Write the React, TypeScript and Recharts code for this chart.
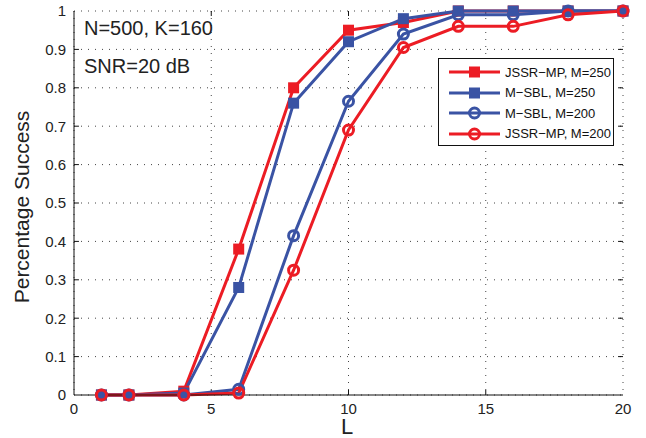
import { LineChart, Line, XAxis, YAxis, CartesianGrid, ReferenceLine } from 'recharts';

const L = [1, 2, 4, 6, 8, 10, 12, 14, 16, 18, 20];
const jssr250 = [0, 0, 0.01, 0.38, 0.8, 0.95, 0.97, 1, 1, 1, 1];
const msbl250 = [0, 0, 0.005, 0.28, 0.76, 0.92, 0.98, 1, 1, 1, 1];
const msbl200 = [0, 0, 0, 0.015, 0.415, 0.765, 0.94, 0.99, 0.99, 1, 1];
const jssr200 = [0, 0, 0, 0.005, 0.325, 0.69, 0.905, 0.96, 0.96, 0.99, 1];

const xTicks = [0, 5, 10, 15, 20];
const yTicks = [0, 0.1, 0.2, 0.3, 0.4, 0.5, 0.6, 0.7, 0.8, 0.9, 1];

const RED = '#ec1c24';
const BLUE = '#3a53a4';

const data = L.map((l, i) => ({
    L: l,
    jssr250: jssr250[i],
    msbl250: msbl250[i],
    msbl200: msbl200[i],
    jssr200: jssr200[i],
}));

const series = [
    { key: 'jssr250', name: 'JSSR\u2212MP, M=250', color: RED, shape: 'square' },
    { key: 'msbl250', name: 'M\u2212SBL, M=250', color: BLUE, shape: 'square' },
    { key: 'msbl200', name: 'M\u2212SBL, M=200', color: BLUE, shape: 'circle' },
    { key: 'jssr200', name: 'JSSR\u2212MP, M=200', color: RED, shape: 'circle' },
];

const FONT = '"Liberation Sans", Arial, Helvetica, sans-serif';

// matlab style inward tick marks, length in data units (~5px)
const TICK_X = 0.18;
const TICK_Y = 0.013;

const makeDot = (shape: string, color: string) => (props: any) => {
    const { cx, cy, index } = props;
    if (cx == null || cy == null) return <g key={index} />;
    if (shape === 'square') {
        return <rect key={index} x={cx - 5.5} y={cy - 5.5} width={11} height={11} fill={color} />;
    }
    return <circle key={index} cx={cx} cy={cy} r={5} fill="none" stroke={color} strokeWidth={3} />;
};

// legend box drawn by hand, sits over the upper right of the plot
const LegendBox = () => (
    <div
        style={{
            position: 'absolute',
            left: 438,
            top: 58,
            width: 176,
            height: 88,
            border: '1px solid #111',
            background: '#fff',
            boxSizing: 'border-box',
            paddingTop: 3,
        }}>
        {series.map((s) => (
            <div key={s.key} style={{ display: 'flex', alignItems: 'center', height: 20.5 }}>
                <svg width={58} height={14} style={{ marginLeft: 8 }}>
                    <line x1={2} y1={7} x2={53} y2={7} stroke={s.color} strokeWidth={3} />
                    {s.shape === 'square' ? (
                        <rect x={22} y={1.5} width={11} height={11} fill={s.color} />
                    ) : (
                        <circle cx={27.5} cy={7} r={5} fill="none" stroke={s.color} strokeWidth={3} />
                    )}
                </svg>
                <span style={{ fontSize: 13, color: '#111' }}>{s.name}</span>
            </div>
        ))}
    </div>
);

export default function App() {
    return (
        <div style={{ position: 'absolute', left: 0, top: 0, width: 646, height: 438, background: '#fff', fontFamily: FONT }}>
            <LineChart width={646} height={438} data={data} margin={{ top: 11, right: 23, left: 0, bottom: 0 }}>
                <CartesianGrid stroke="#444" strokeDasharray="1 6" />
                <XAxis
                    dataKey="L"
                    type="number"
                    domain={[0, 20]}
                    ticks={xTicks}
                    height={43}
                    stroke="#111"
                    tickLine={false}
                    tick={{ fontSize: 15, fill: '#222' }}
                />
                <XAxis xAxisId="top" orientation="top" type="number" domain={[0, 20]} height={0} tick={false} tickLine={false} stroke="#111" />
                <YAxis
                    type="number"
                    domain={[0, 1]}
                    ticks={yTicks}
                    width={74}
                    stroke="#111"
                    tickLine={false}
                    tick={{ fontSize: 15, fill: '#222' }}
                />
                <YAxis yAxisId="right" orientation="right" type="number" domain={[0, 1]} width={0} tick={false} tickLine={false} stroke="#111" />
                {xTicks.slice(1, -1).map((t) => (
                    <ReferenceLine key={`xb${t}`} segment={[{ x: t, y: 0 }, { x: t, y: TICK_Y }]} stroke="#111" />
                ))}
                {xTicks.slice(1, -1).map((t) => (
                    <ReferenceLine key={`xt${t}`} segment={[{ x: t, y: 1 }, { x: t, y: 1 - TICK_Y }]} stroke="#111" />
                ))}
                {yTicks.slice(1, -1).map((t) => (
                    <ReferenceLine key={`yl${t}`} segment={[{ x: 0, y: t }, { x: TICK_X, y: t }]} stroke="#111" />
                ))}
                {yTicks.slice(1, -1).map((t) => (
                    <ReferenceLine key={`yr${t}`} segment={[{ x: 20, y: t }, { x: 20 - TICK_X, y: t }]} stroke="#111" />
                ))}
                {series.map((s) => (
                    <Line
                        key={s.key}
                        dataKey={s.key}
                        name={s.name}
                        stroke={s.color}
                        strokeWidth={3}
                        dot={makeDot(s.shape, s.color)}
                        activeDot={false}
                        isAnimationActive={false}
                    />
                ))}
            </LineChart>
            <LegendBox />
            <div style={{ position: 'absolute', left: 84, top: 17, fontSize: 20, color: '#222' }}>N=500, K=160</div>
            <div style={{ position: 'absolute', left: 84, top: 55, fontSize: 20, color: '#222' }}>SNR=20 dB</div>
            <div style={{ position: 'absolute', left: 341, top: 416, fontSize: 22, lineHeight: '22px', color: '#222' }}>L</div>
            <div
                style={{
                    position: 'absolute',
                    left: 22,
                    top: 207,
                    fontSize: 21,
                    color: '#222',
                    whiteSpace: 'nowrap',
                    transform: 'translate(-50%, -50%) rotate(-90deg)',
                }}>
                Percentage Success
            </div>
        </div>
    );
}
